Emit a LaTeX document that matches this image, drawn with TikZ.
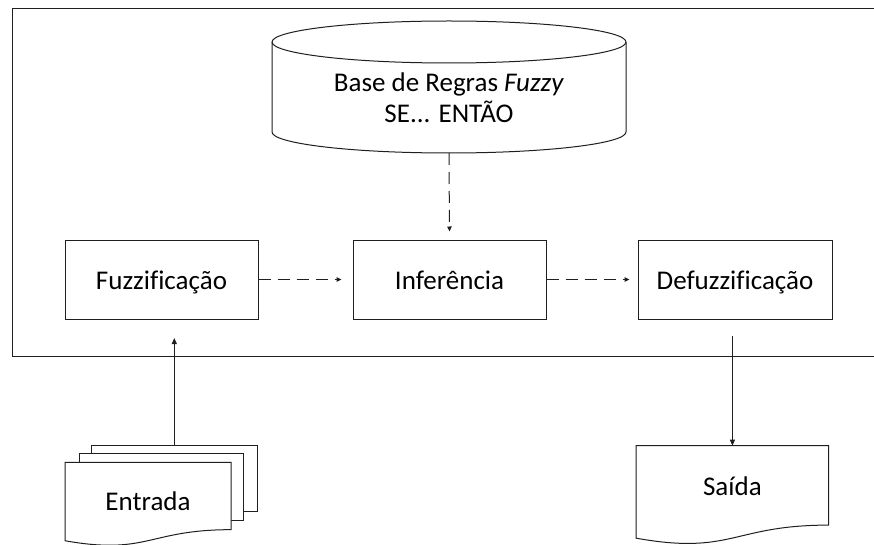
\documentclass[tikz,border=0pt]{standalone}
\usepackage{fontspec}
\setmainfont{Carlito}[Ligatures=NoCommon]
\usetikzlibrary{arrows.meta}

\tikzset{
  ln/.style={draw=black!88, line width=1pt},
  procbox/.style={ln, rectangle, fill=white, minimum width=193pt, minimum height=79pt,
                  inner sep=0pt, text height=25pt, text depth=6pt,
                  font=\fontsize{27}{31}\selectfont},
  lbl/.style={inner sep=0pt, align=center, font=\fontsize{27}{31}\selectfont},
  dasharr/.style={ln, dash pattern=on 12pt off 7pt, -{Triangle[length=5pt,width=4.5pt]}},
  solidarr/.style={ln, -{Triangle[length=6pt,width=5pt]}},
  sheet/.style={ln, fill=white, line join=miter}
}

% flowchart "document" outline: top-left x, top y, width, height
\newcommand{\docoutline}[4]{%
  \draw[sheet] (#1,#2) -- ({#1+#3},#2) -- ({#1+#3},{#2+0.802*#4})
    .. controls ({#1+0.5*#3},{#2+0.802*#4}) and ({#1+0.5*#3},{#2+1.1075*#4})
    .. (#1,{#2+0.934*#4}) -- cycle;}

\begin{document}
\begin{tikzpicture}[x=1pt, y=-1pt]
\useasboundingbox (0,0) rectangle (874,545);

% system boundary (open on the right)
\draw[ln] (875,9) -- (12,9) -- (12,356) -- (875,356);

% rule base drum
\draw[sheet] (272,42) -- (272,132)
  arc[start angle=180, end angle=360, x radius=177pt, y radius=21pt]
  -- (626,42)
  arc[start angle=0, end angle=180, x radius=177pt, y radius=21pt] -- cycle;
\draw[ln] (272,42) arc[start angle=180, end angle=360, x radius=177pt, y radius=21pt];
\node[lbl] (base) at (449,98) {Base de Regras \textit{Fuzzy}\\SE... ENTÃO};
\coordinate (basebottom) at (449,153);

% processing stages
\node[procbox] (fuzz)   at (161.5,279.5) {Fuzzificação};
\node[procbox] (inf)    at (449.5,279.5) {Inferência};
\node[procbox, minimum width=194pt] (defuzz) at (735,279.5) {Defuzzificação};

\draw[dasharr, shorten >=8pt] (basebottom) -- (inf.north);
\draw[dasharr, shorten >=11pt] (fuzz.east) -- (inf.west);
\draw[dasharr, shorten >=8pt] (inf.east) -- (defuzz.west);

% input: stacked documents
\draw[sheet] (91.7,445) rectangle (257.7,511.7);
\draw[sheet] (79,453.7) rectangle (243.7,520);
\docoutline{65}{462.3}{166}{84}
\node[lbl, anchor=base] (entrada) at (148,510.7) {Entrada};
\coordinate (entradatop) at (174.3,445);

% output document
\docoutline{636}{445.7}{192.7}{99}
\node[lbl, anchor=base] (saida) at (732.4,495.7) {Saída};
\coordinate (saidatop) at (732.4,445.7);

% external connections
\draw[solidarr, shorten >=18.5pt] (entradatop) -- (entradatop |- fuzz.south);
\draw[solidarr, shorten <=16pt] (saidatop |- defuzz.south) -- (saidatop);
\end{tikzpicture}
\end{document}
